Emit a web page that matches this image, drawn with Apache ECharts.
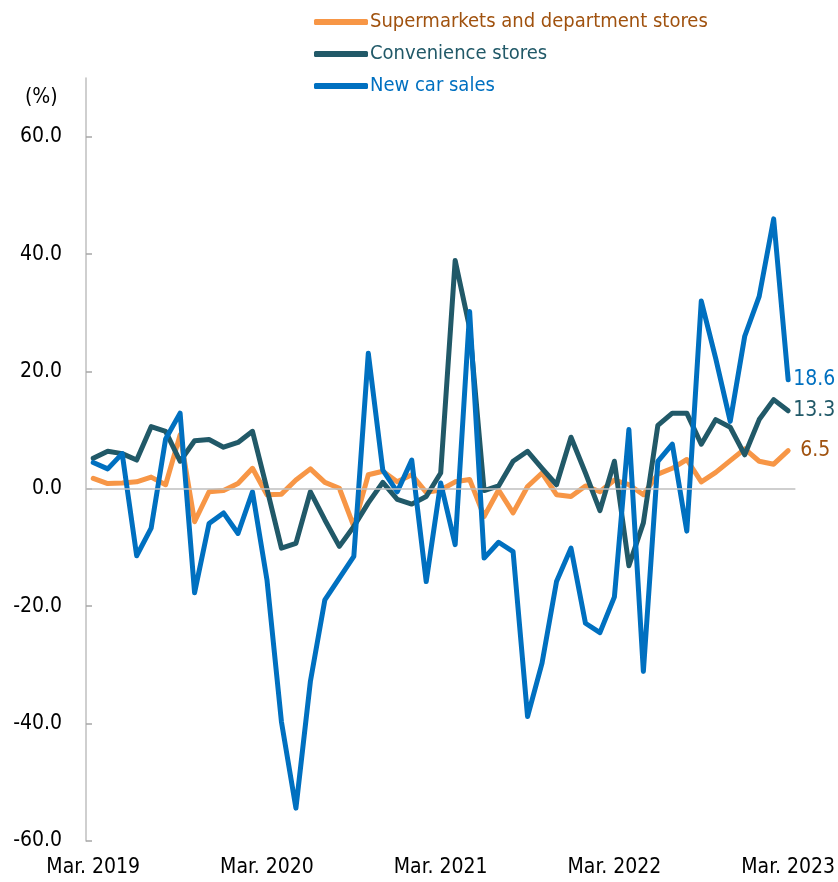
<!DOCTYPE html>
<html>
<head>
<meta charset="utf-8">
<script src="https://cdn.jsdelivr.net/npm/echarts@6/dist/echarts.min.js"></script>
<style>
  html, body { margin: 0; padding: 0; background: #fff; }
  #chart { width: 838px; height: 882px; }
</style>
</head>
<body>
<div id="chart"></div>
<script>
var months = [
  'Mar. 2019', 'Apr. 2019', 'May 2019', 'Jun. 2019', 'Jul. 2019', 'Aug. 2019', 'Sep. 2019', 'Oct. 2019', 'Nov. 2019', 'Dec. 2019', 'Jan. 2020', 'Feb. 2020',
  'Mar. 2020', 'Apr. 2020', 'May 2020', 'Jun. 2020', 'Jul. 2020', 'Aug. 2020', 'Sep. 2020', 'Oct. 2020', 'Nov. 2020', 'Dec. 2020', 'Jan. 2021', 'Feb. 2021',
  'Mar. 2021', 'Apr. 2021', 'May 2021', 'Jun. 2021', 'Jul. 2021', 'Aug. 2021', 'Sep. 2021', 'Oct. 2021', 'Nov. 2021', 'Dec. 2021', 'Jan. 2022', 'Feb. 2022',
  'Mar. 2022', 'Apr. 2022', 'May 2022', 'Jun. 2022', 'Jul. 2022', 'Aug. 2022', 'Sep. 2022', 'Oct. 2022', 'Nov. 2022', 'Dec. 2022', 'Jan. 2023', 'Feb. 2023',
  'Mar. 2023'
];

var supermarkets = [
  1.8, 0.9, 1.0, 1.2, 2.0, 0.7, 9.2, -5.6, -0.5, -0.3, 0.9, 3.5,
  -1.0, -0.9, 1.5, 3.4, 1.1, 0.1, -6.4, 2.4, 3.0, 1.2, 2.4, -0.6,
  -0.2, 1.2, 1.6, -4.7, -0.2, -4.1, 0.4, 2.7, -1.0, -1.3, 0.5, -0.5,
  1.5, 0.7, -1.0, 2.5, 3.5, 5.0, 1.2, 2.8, 4.8, 6.8, 4.7, 4.2,
  6.5
];

var convenience = [
  5.2, 6.4, 6.0, 4.9, 10.6, 9.8, 4.7, 8.2, 8.4, 7.1, 7.9, 9.8,
  0.0, -10.1, -9.3, -0.5, -5.3, -9.8, -6.4, -2.4, 1.1, -1.8, -2.6, -1.3,
  2.7, 38.9, 27.4, -0.3, 0.5, 4.7, 6.4, 3.5, 0.7, 8.8, 2.7, -3.7,
  4.7, -13.1, -5.8, 10.8, 12.9, 12.9, 7.6, 11.8, 10.5, 5.8, 11.8, 15.2,
  13.3
];

var newCars = [
  4.5, 3.4, 6.0, -11.4, -6.7, 8.5, 12.9, -17.7, -5.9, -4.1, -7.6, -0.5,
  -15.5, -39.7, -54.4, -32.8, -18.9, -15.2, -11.5, 23.1, 3.2, -0.5, 4.9, -15.8,
  1.0, -9.5, 30.2, -11.8, -9.1, -10.7, -38.8, -29.7, -15.8, -10.1, -22.9, -24.5,
  -18.4, 10.1, -31.1, 4.7, 7.6, -7.2, 32.0, 22.2, 11.5, 26.0, 32.8, 46.0,
  18.6
];

var yTicks = [-60, -40, -20, 0, 20, 40, 60];

var FONT = "'Liberation Sans Narrow', 'DejaVu Sans Condensed', sans-serif";
var ORANGE = '#f79646', TEAL = '#215968', BLUE = '#0070c0';
var ORANGE_TXT = '#a0520f';

function lineSeries(name, data, color, txtColor, labelGap) {
  return {
    name: name,
    type: 'line',
    data: data,
    symbol: 'none',
    lineStyle: { color: color, width: 5, join: 'round', cap: 'round' },
    itemStyle: { color: color },
    endLabel: {
      show: true,
      distance: labelGap,
      color: txtColor,
      fontFamily: FONT,
      fontSize: 21,
      formatter: function (p) { return p.value.toFixed(1); }
    }
  };
}

var chart = echarts.init(document.getElementById('chart'));

var series = [
  lineSeries('Supermarkets and department stores', supermarkets, ORANGE, ORANGE_TXT, 12),
  lineSeries('Convenience stores', convenience, TEAL, TEAL, 5),
  lineSeries('New car sales', newCars, BLUE, BLUE, 5)
];
// zero line
series[0].markLine = {
  silent: true,
  symbol: 'none',
  label: { show: false },
  lineStyle: { color: '#bfbfbf', width: 1.5, type: 'solid' },
  data: [{ yAxis: 0 }]
};
series[0].z = 2;
series[1].z = 3;
series[2].z = 4;

chart.setOption({
  animation: false,
  textStyle: { fontFamily: FONT },
  title: {
    text: '(%)',
    left: 20,
    top: 82,
    textStyle: { fontFamily: FONT, fontSize: 21, fontWeight: 'normal', color: '#000' }
  },
  legend: {
    orient: 'vertical',
    left: 309,
    top: 7,
    itemWidth: 54,
    itemHeight: 6,
    itemGap: 12,
    icon: 'roundRect',
    textStyle: { fontFamily: FONT, fontSize: 20, padding: [0, 0, 0, -3] },
    data: [
      { name: 'Supermarkets and department stores', textStyle: { color: ORANGE_TXT } },
      { name: 'Convenience stores', textStyle: { color: TEAL } },
      { name: 'New car sales', textStyle: { color: BLUE } }
    ]
  },
  grid: { left: 86, right: 39, top: 78, bottom: 41, containLabel: false },
  xAxis: {
    type: 'category',
    data: months,
    boundaryGap: true,
    axisLine: { show: false },
    axisTick: { show: false },
    axisLabel: {
      interval: 11,
      margin: 16,
      color: '#000',
      fontFamily: FONT,
      fontSize: 21
    }
  },
  yAxis: {
    type: 'value',
    min: -60,
    max: 70,
    interval: 10,
    splitLine: { show: false },
    axisLine: { show: true, lineStyle: { color: '#bfbfbf', width: 1.5 } },
    axisTick: {
      show: true,
      inside: true,
      length: 6,
      customValues: yTicks,
      lineStyle: { color: '#a6a6a6', width: 1.5 }
    },
    axisLabel: {
      customValues: yTicks,
      margin: 24,
      color: '#000',
      fontFamily: FONT,
      fontSize: 21,
      formatter: function (v) { return v.toFixed(1); }
    }
  },
  series: series
});
</script>
</body>
</html>
